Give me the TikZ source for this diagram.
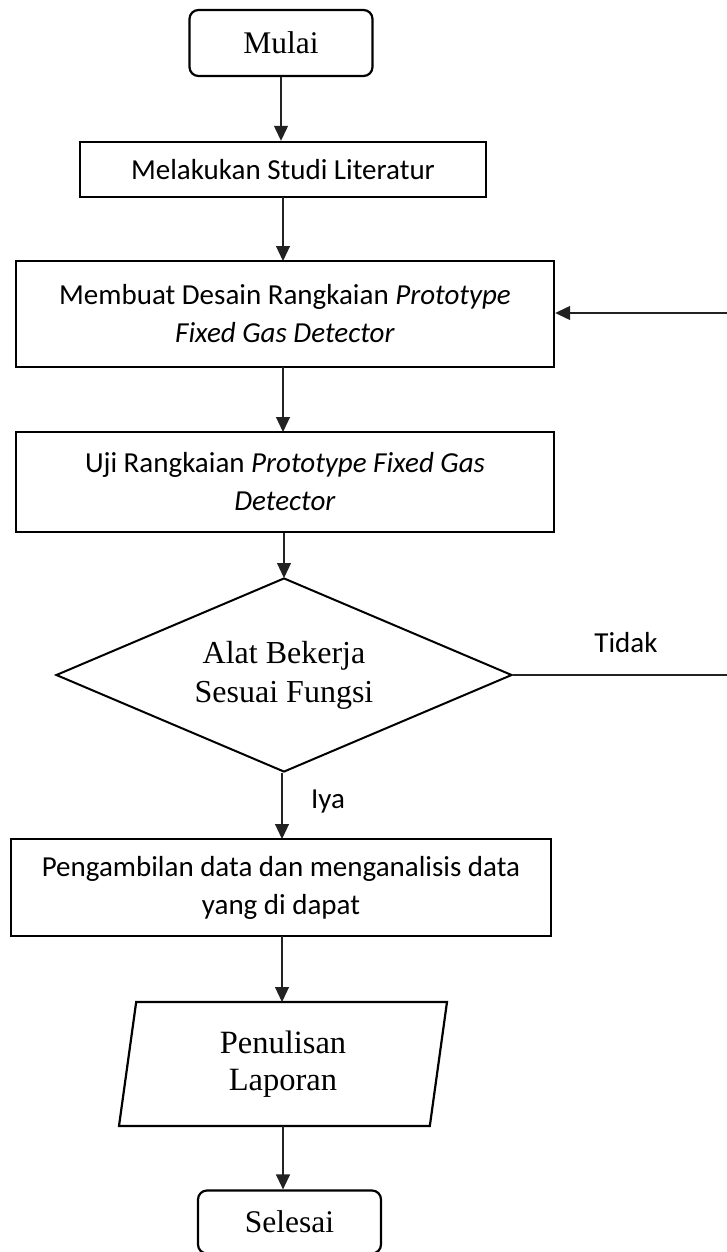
\documentclass[tikz,border=0pt]{standalone}
\usepackage{fontspec}
\setmainfont{Liberation Serif}
\newfontfamily\calibri{Carlito}
\usetikzlibrary{arrows.meta,shapes.geometric}
\definecolor{ink}{HTML}{000000}
\definecolor{wire}{HTML}{222222}
\tikzset{terminal/.style={draw=ink,rounded corners=9pt,line width=2.2pt,minimum width=183pt,minimum height=66pt,font=\fontsize{31.5}{38}\selectfont}, prosesbox/.style={draw=ink,line width=2.4pt,align=center,font=\calibri\fontsize{29}{38}\selectfont}, keputusan/.style={diamond,aspect=2.35,draw=ink,line width=2pt,inner sep=0pt,align=center,font=\fontsize{32}{42}\selectfont,minimum width=456pt,minimum height=194pt}, iobox/.style={trapezium,trapezium left angle=75.5,trapezium right angle=104.5,trapezium stretches body,draw=ink,line width=2.2pt,align=center,inner sep=0pt,minimum width=328pt,minimum height=124pt,font=\fontsize{32.5}{37}\selectfont}, alur/.style={draw=wire,line width=1.2pt,-{Triangle[width=14pt,length=15pt]}}, ket/.style={font=\calibri\fontsize{29}{32}\selectfont}}

\begin{document}
\begin{tikzpicture}[x=1pt,y=-1pt]
\useasboundingbox (0,0) rectangle (727,1252);
\node[terminal] (mulai) at (281,43) {Mulai};
\node[prosesbox,minimum width=406pt,minimum height=55pt] (studi) at (283,169.5) {Melakukan Studi Literatur};
\node[prosesbox,minimum width=538pt,minimum height=106pt] (desain) at (285,314) {Membuat Desain Rangkaian \textit{Prototype}\\\textit{Fixed Gas Detector}};
\node[prosesbox,minimum width=538pt,minimum height=100pt] (uji) at (285,482) {Uji Rangkaian \textit{Prototype Fixed Gas}\\\textit{Detector}};
\node[keputusan] (cek) at (284,675) {\raisebox{-4pt}{\begin{tabular}{@{}c@{}}Alat Bekerja\\[-3pt]Sesuai Fungsi\end{tabular}}};
\node[prosesbox,minimum width=540pt,minimum height=97pt] (data) at (281,887.5) {Pengambilan data dan menganalisis data\\yang di dapat};
\node[iobox] (tulis) at (283,1064) {Penulisan\\Laporan};
\node[terminal,minimum height=63pt] (selesai) at (289.5,1222) {Selesai};
\coordinate (puncak) at (284,578);
\coordinate (balik1) at (728,675);
\coordinate (balik2) at (728,313);
\node[ket] (tidak) at (626,643) {Tidak};
\node[ket] (iya) at (328,802) {Iya};

\draw[alur] (mulai.south) -- (mulai.south |- studi.north);
\draw[alur] (283,197) -- (283,261);
\draw[alur] (283,367) -- (283,432);
\draw[alur] (puncak |- uji.south) -- (puncak);
\draw[alur] (cek.south -| 282,0) -- (282,839);
\draw[alur] (282,936) -- (282,1002);
\draw[alur] (283,1126) -- (selesai.north -| 283,0);
\draw[alur] (cek.east) -- (balik1) -- (balik2) -- (desain.east |- balik2);
\end{tikzpicture}
\end{document}
